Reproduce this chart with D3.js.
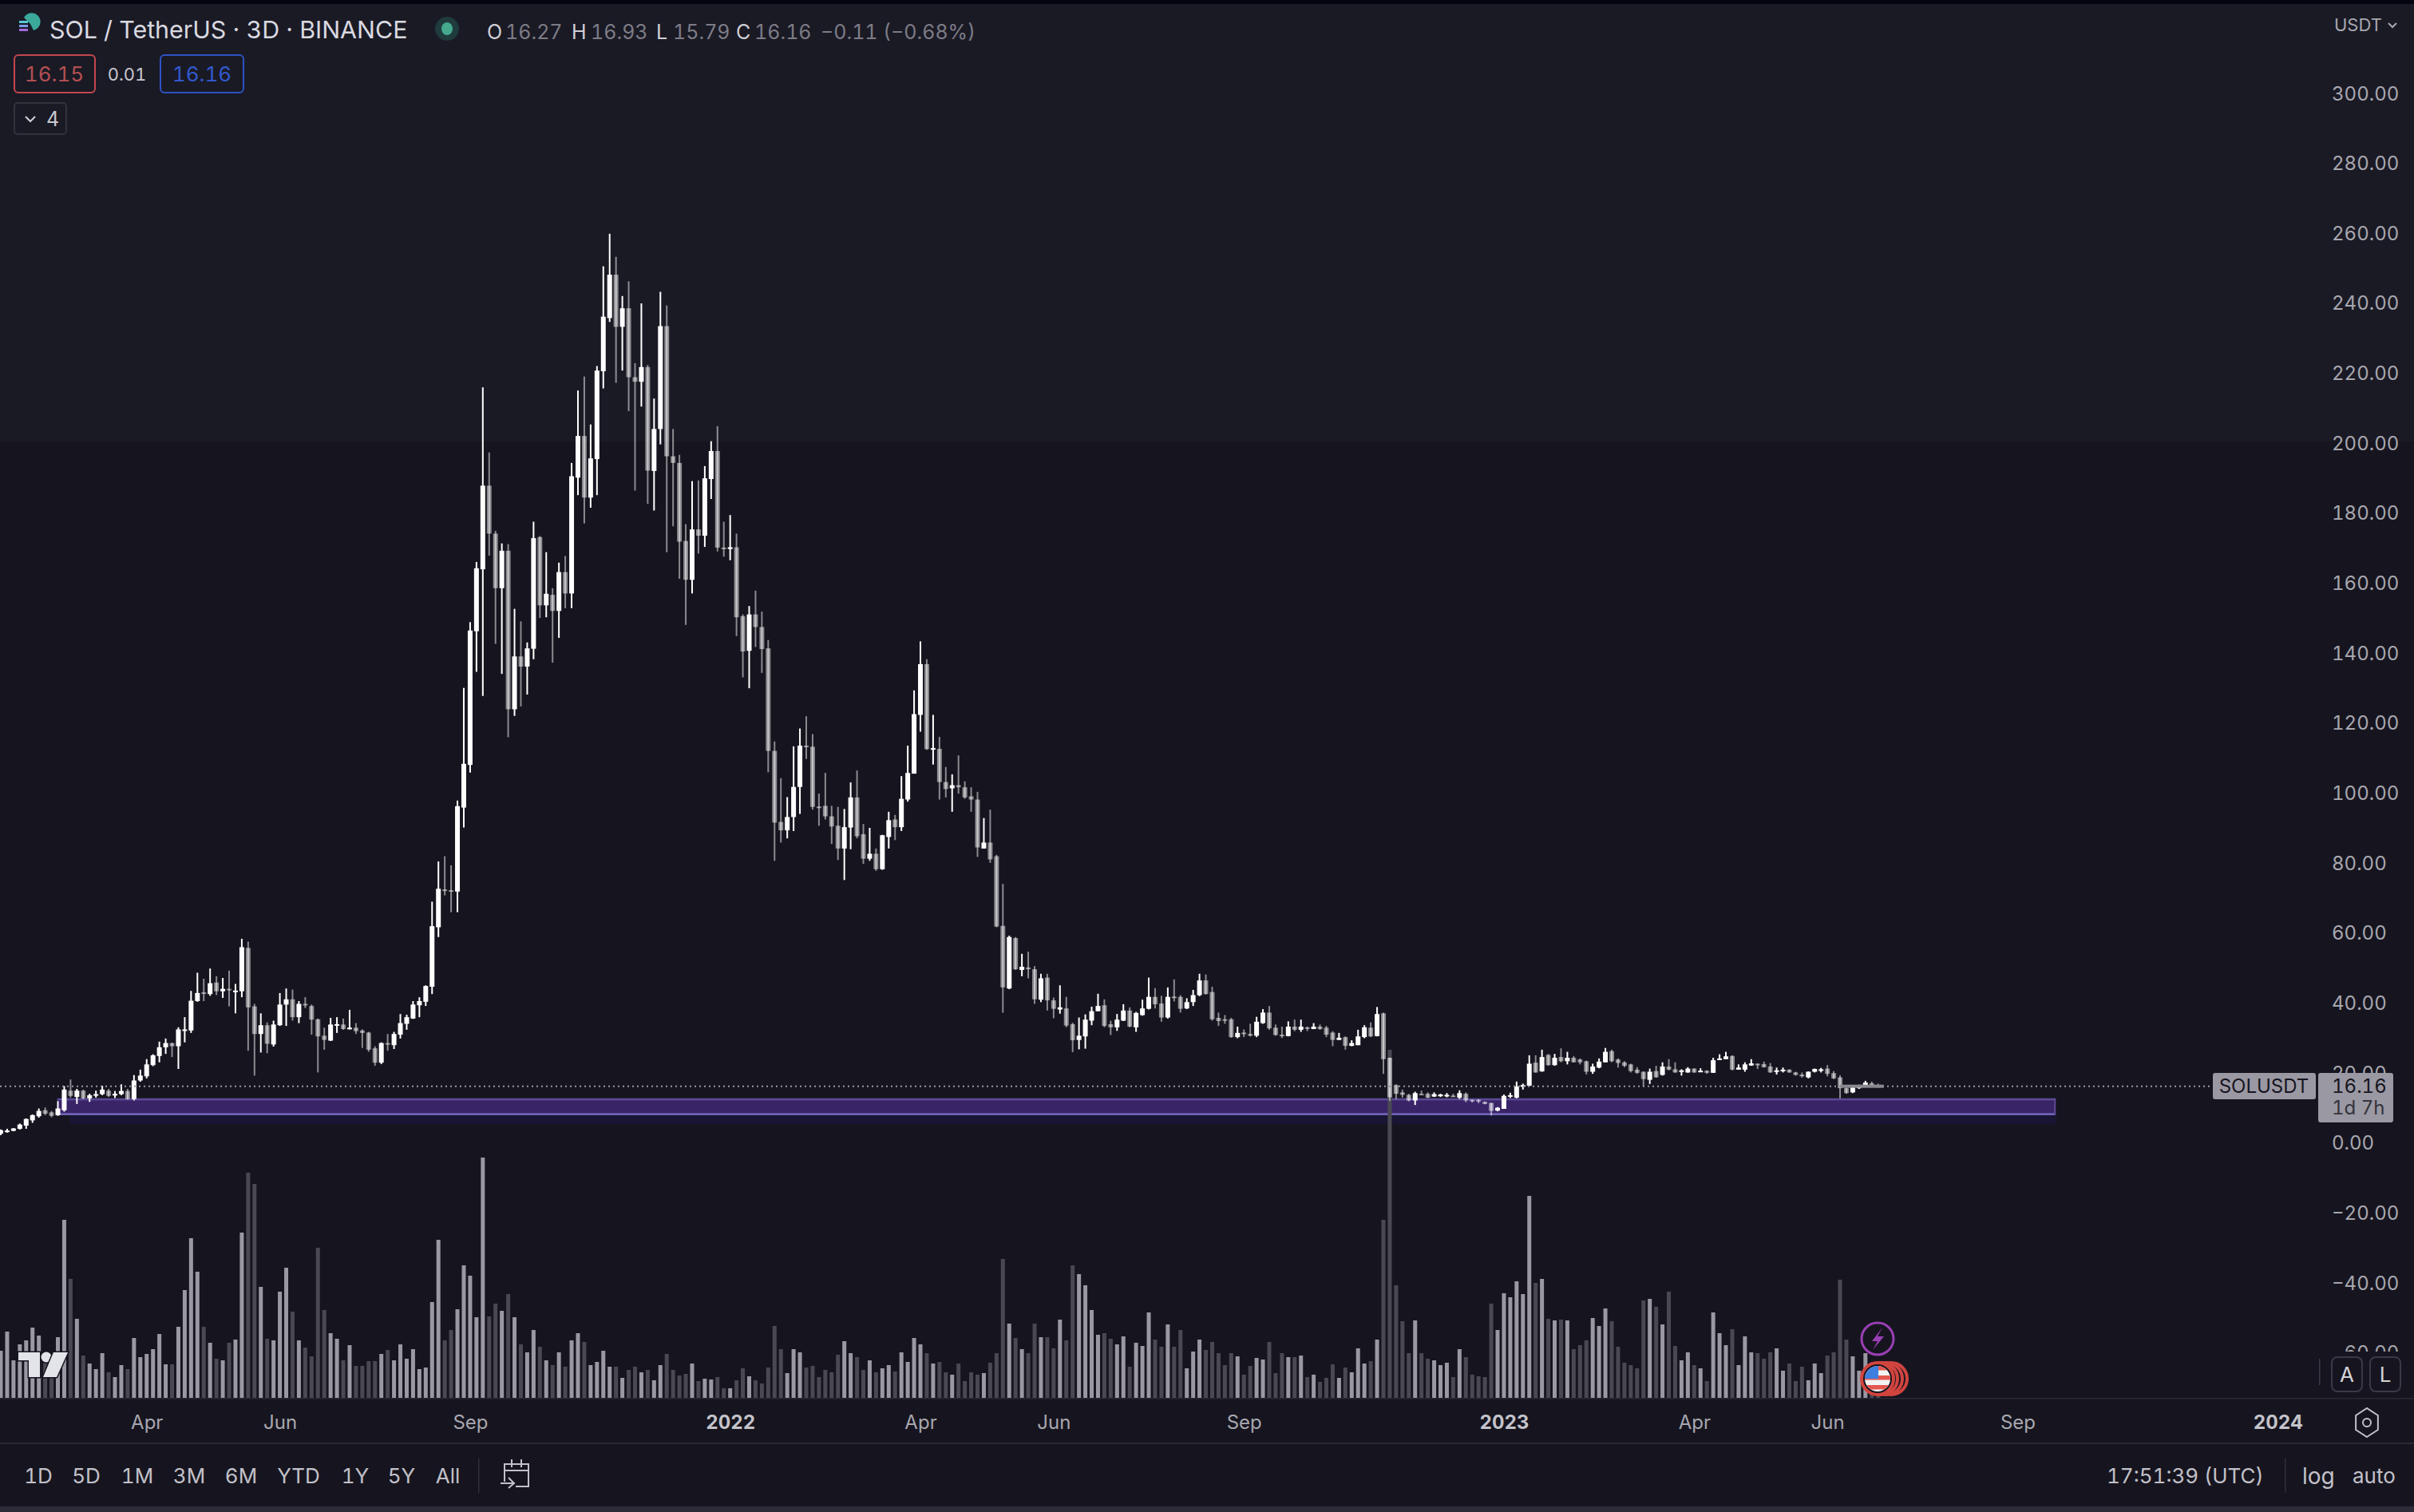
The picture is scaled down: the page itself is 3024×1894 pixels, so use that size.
<!DOCTYPE html>
<html><head><meta charset="utf-8">
<script src="https://cdn.jsdelivr.net/npm/d3@7/dist/d3.min.js"></script>
<style>html,body{margin:0;padding:0;background:#16151f}svg{display:block}text{font-family:Inter,"Noto Sans",sans-serif;font-variant-numeric:tabular-nums}</style>
</head><body><svg id="c" width="3024" height="1894"></svg>
<script>
const opens=[2.6,3.4,3.4,4.0,4.9,6.4,7.6,9.3,8.7,7.9,
9.3,14.9,13.1,14.9,12.7,13.5,13.9,14.9,13.5,13.9,
14.8,12.5,17.8,19,22.2,24.8,27.3,28.5,27.6,32.2,
32.1,40.5,43,42.5,45.8,43.3,44,43.2,43.3,55.7,
39,31.1,33.6,28.1,33.6,39.5,41,35.9,39.7,39.1,
35.3,30.6,29.2,33.7,33.8,32.6,32.9,32.1,31.5,27,
22.9,28.5,27.9,30.9,34,35.5,39.3,40.3,44.6,61.6,
72.4,72.2,71.8,95.8,108,146.2,163.9,187.8,174.1,158.5,
169.2,123.9,139,136.1,141.2,173.1,153.6,156.6,152,163.1,
157,190.1,202,184.4,195.4,220.5,235.7,248.1,233.2,238.5,
218.8,217.5,221.7,192,204,233.4,196.2,194.3,172,160.9,
175.3,173.5,189.7,197.7,170.1,169.7,170.2,150.5,140.6,151,
147.4,141.3,112,91.7,89.3,93.1,101.7,113.5,113.2,96.1,
96.3,93.3,90.6,84.1,90.1,98.7,88.2,81.2,82.6,78.2,
87.4,92.4,90.2,98.1,105.5,122.3,136.8,112.5,112.6,103.1,
101.3,102.2,101.6,99,98.1,84.1,85.8,81.9,62,44.1,
58.5,49.4,50.1,49.6,40.9,47.2,40.7,38.1,38.4,33.9,
29.4,30.4,34.9,37.6,39.3,33.9,33,34.9,37.8,33,
36.5,38.3,41.7,39.8,35.8,41.8,41.7,38.4,40.2,42.2,
46.4,43.1,35.7,35.3,35.3,30.2,31.5,31.1,30.6,34.2,
37.2,32.9,30.9,30.5,33.2,32.3,33,32.5,33.2,32.9,
31.5,29.4,30.2,27.7,27.9,30.2,32.9,30.5,37,24.3,
16.5,14.4,13.7,12.1,14,14,13.2,13.3,13.4,13.5,
12.9,14,12.3,12.3,11.7,11.4,9.2,9.7,13.3,12.9,
16,16.3,22.9,20.4,25.1,22.2,24.5,23.3,24.3,23.8,
23.3,20.3,21.5,23,26.2,23.8,23,22.4,20.9,20.3,
18,20.5,19.4,21.8,21,20.4,20.1,21.2,20.3,20.6,
20,23.8,23.9,24.8,20.9,20.9,22.1,22.6,22.5,21.8,
20.3,20.6,20.9,20.1,19.5,18.7,20.3,20.8,21.2,19.9,
18.7,15.6,14.4,15.6,16.3,17,16.27];
const closes=[3.6,3.5,4.1,5.2,6.8,7.9,9.1,8.3,7.7,9.8,
15.2,13.4,14.9,12.7,13.6,13.9,15.2,13.4,14,14.8,
12.5,17.8,19.2,22.4,25,27.3,28.5,27.6,32.4,32.4,
40.6,42.8,42.6,45.6,43.3,44,43.6,43.5,55.9,38.7,
31.1,33.6,28.3,33.8,39.5,41,35.9,39.7,39.3,35.2,
30.4,29.4,33.8,33.9,32.5,32.9,31.9,31.4,26.6,22.9,
28.5,28.2,31.1,34.2,35.9,39.5,40.5,44.8,61.9,72.6,
72,71.9,96.2,108.3,146.4,164.2,187.8,174.1,158.5,169.2,
123.9,139,136.1,141.3,172.8,153.6,156.9,152,163.1,157,
190.5,202,184.4,195.6,220.7,236.1,248.1,233.2,238.5,218.8,
217.5,221.7,192.1,204,233.4,196.2,194.3,171.8,160.9,175.3,
173.5,189.9,197.7,170.1,169.7,170.2,150.2,140.4,151,147.4,
141.1,112,91.5,89.3,93.1,101.7,113.5,113.2,96,95.9,
93.3,90.4,84.1,90.2,98.7,87.6,81.2,82.6,78.2,87.9,
92.2,90.2,98.3,105.7,122.5,136.8,112.5,112.8,103.1,101.1,
102.2,101.6,98.7,98.1,84.4,85.8,81,61.8,44.4,58.8,
49.6,50.3,49.6,41,47,40.7,38.3,38.7,33.5,29.3,
30.6,35.2,37.6,39.1,33.4,33,35.2,37.8,33.2,37.1,
38.4,41.7,39.6,35.8,41.7,41.5,38.3,40.2,42.2,46.4,
42.5,35.3,34.8,34.9,30.2,31.4,31.1,30.6,34.6,37.2,
32.7,30.8,30.8,33.2,32.3,33.2,32.7,33.2,32.5,30.9,
29.4,30,27.7,28.5,30.4,33,30.4,36.8,23.9,13,
14,13.7,12.1,14.2,13.8,12.9,13.9,13.8,13.7,13.2,
14.2,12.1,11.9,11.8,11.1,9.1,10,13.4,13.6,16.1,
16.5,22.6,20.1,24.5,22.2,24.3,23.3,24.3,23,23,
20.3,21.8,23.2,26,23.3,22.8,22,20.5,20,18.2,
20.3,18.7,21.8,20.9,20.1,20.7,21.2,20.1,20.6,20,
23.6,24.1,24.7,20.9,21.5,22.4,22.7,22.2,21.6,20.1,
20.7,20.9,20.1,19.4,19,20.3,21.1,21,19.7,18.4,
15.6,14.2,15.8,16.3,17.2,16.3,16.16];
const highs=[3.8,4,4.2,5.5,6.95,8.1,9.8,10.1,9.1,11.9,
16.2,18.1,15.4,15.2,14,14.9,16.3,15.4,14.8,16.7,
15.4,19.35,20.9,23.9,25.3,28.9,29.8,28.6,33,35.9,
43.4,48.6,46.9,49.8,47.6,47.1,49.2,45.4,58.3,57.5,
39.7,37,34.4,34.9,42.8,44.1,43.8,40.5,41.6,39.5,
35.5,32.9,35.7,35.9,35.5,38,34.2,32.4,31.7,27.6,
28.7,31.1,31.7,36.8,36.6,40.5,41.6,45,68.9,80.4,
81.9,79.3,97.8,130,148.8,166,215.9,197.3,174.9,171.3,
171.1,152.6,149,143,177.5,173.4,168.8,158.5,165.8,167.7,
194.3,215,219,205.3,222,250.5,259.8,253.2,242,246.2,
222.8,239.9,222.3,212.7,243.2,239.3,204,196.6,176.8,189.1,
189.3,193.4,200.5,204.8,177.5,179.4,174.1,151,153.4,157.8,
151.8,143.7,114.7,104.2,98.8,113.3,118.4,121.9,116.8,99.8,
105.7,96.3,96,95.4,103,106.4,91.1,90,84.1,88,
94.6,93.7,104.8,113.5,129.3,143.3,138.2,122.3,116,107.4,
105.3,110.7,103.3,101.6,100.3,92.8,95.2,82.3,74,59.2,
58.8,54,54.6,50.5,48.3,48.3,41.5,45,41.7,34.3,
35.8,36.7,38.9,42.6,41,34.9,36.8,39.6,38.7,37.4,
40.9,47.2,44.2,42,44.4,46.7,42.2,41.3,43.7,48.3,
48.1,44.6,37.2,36.5,35.7,33.2,32.4,34,36,38.2,
39.1,33.8,33.2,34.7,35.2,35.2,33.2,34.2,33.8,33.4,
31.9,31.4,30.4,29.3,32.3,33.6,34.4,38.8,37.2,24.3,
16.7,15.2,14,14.6,14.9,14.4,14.4,14,14.2,14,
15,14.4,12.3,12.4,11.8,11.4,10.2,13.8,14.3,17.5,
16.9,25,25,26.6,25.4,25.4,27,26,24.8,24.1,
23.5,22.6,24.1,27.1,26.6,24.1,23.3,22.6,21.6,20.4,
21.2,22,23,23.9,23,21,21.6,21.3,21.3,20.7,
24.3,25.3,26,25,22.4,23,23.9,22.7,23.2,22.8,
21.5,21.5,21,20.3,20.1,20.4,21.2,21.4,22.2,20.5,
19.3,16,16.1,16.6,17.7,17.5,16.93];
const lows=[2.2,2.9,3.3,3.8,4,5.7,7.2,7.9,7.3,7.7,
8.9,12.9,11.1,12.5,11.7,12.9,13.6,13.1,12.8,13.6,
12.35,12.1,17.45,18.4,21.9,23,25.4,24.5,21.1,28.7,
31.4,40.3,40.5,42,42.2,41.4,39,37,41.6,26.3,
19.2,25.8,25.6,27.5,33.4,33.4,34.9,34.2,38.5,30.9,
20.1,26.6,29.1,31.4,32.3,32.4,31.1,27.1,26,22,
22.5,26.3,26.8,29.8,32.3,35.4,35.9,39.1,42.5,58.8,
70.7,65.9,65.9,90.1,105.8,134.6,127.7,167.8,142.6,134,
115.9,122,124.7,128.1,138.2,150,150.2,137.2,144.3,152.8,
152.8,185.1,177,181.5,185.1,215.6,234.6,217.2,220.7,209.1,
186.4,210.4,182.6,180.7,199.6,168.8,176.2,161.2,148,157,
168.4,170.3,184,169,167.5,166.5,144.8,133,129.9,141.7,
134.3,105.9,80.6,85.8,87,89.1,94,109.7,95.2,90.6,
92.4,85.4,80.8,75.1,83.9,87,79.7,80.6,77.7,78,
84.1,86.5,89.1,97.5,105.5,117.5,112.3,108.1,98.1,98.7,
94.6,99.8,98.3,94.6,81.7,84.1,80,61.6,37.2,43.9,
49.4,47.6,47,39.7,40.2,37.8,35.6,36.9,33,25.9,
26.7,26.9,33.6,37.6,33,30.8,32,34.8,33,31.7,
36.3,38.1,38.4,34.6,35.5,40.4,37.2,38.2,39.1,41.9,
42.4,34.9,33.4,34,30,29.9,30.2,30.4,30.2,34,
32.3,30.6,29.9,30.4,31.9,31.7,31.9,32.5,32.3,30.2,
27.6,29.4,26.6,27.6,27.9,29.9,30.2,30.4,19.7,12,
12.5,12.9,11.8,10.8,13.8,12.7,13.1,13.1,13,13.1,
12.5,11.6,11.5,11.3,11,7.8,9,9.7,12.8,12.7,
15.2,16.2,20,20.3,22,22,23,22.4,23,22.4,
19.5,19.7,21.3,23,23,21.5,21.6,20.1,19.7,16.1,
16.8,18.6,19.2,20.7,20,19.2,20,20,20.3,19.7,
20,23.8,23.9,20.7,20.9,20.3,22,21.1,21.5,20,
19.5,20.1,20,19.2,18.6,18.4,20.1,20.1,19,18.2,
12.7,14,14.2,15.4,16.2,16.2,15.79];
const volumes=[59,83,47,67,72,88,78,47,44,76,
223,149,99,53,43,36,56,32,26,41,
36,75,51,55,61,80,42,42,89,135,
200,158,89,69,49,47,69,73,207,282,
268,139,74,72,133,163,108,72,63,52,
188,110,81,74,47,66,40,40,46,46,
55,60,47,67,49,61,36,38,120,198,
72,85,111,166,153,101,301,102,118,109,
130,101,67,57,85,64,47,41,57,39,
72,81,70,41,45,59,39,39,25,35,
39,32,35,22,41,55,35,28,30,43,
21,24,23,26,12,12,22,37,27,22,
18,38,90,61,31,61,57,38,40,26,
35,32,54,71,56,51,35,47,32,37,
41,33,57,45,75,67,56,43,45,32,
29,43,21,32,29,31,44,56,174,93,
75,61,56,93,76,76,62,98,72,166,
155,141,110,79,81,74,67,77,39,69,
65,107,73,64,92,64,85,37,58,73,
60,70,56,41,56,52,29,40,50,48,
70,31,56,51,51,53,26,29,20,25,
42,25,38,32,62,43,46,73,223,436,
141,96,56,97,56,49,47,41,44,26,
61,51,29,27,26,118,85,131,126,146,
130,253,144,149,99,97,98,97,61,66,
72,100,90,112,96,64,44,41,37,122,
124,114,92,133,65,47,57,41,37,21,
107,81,66,86,41,77,57,56,49,57,
62,34,43,21,39,22,43,31,53,57,
148,73,52,34,56,27,11];
const priceTicks=[300,280,260,240,220,200,180,160,140,120,100,80,60,40,20,0,-20,-40,-60];
const timeLabels=["Apr","Jun","Sep","2022","Apr","Jun","Sep","2023","Apr","Jun","Sep","2024"];
const timeBars=[23,44,74,115,145,166,196,237,267,288,318,359];
const rangeLabels=["1D","5D","1M","3M","6M","YTD","1Y","5Y","All"];
const zonePrices=[7.9,12.7];
const zoneBars=[8.9,324];
const lastPrice=16.16;

const W=3024,H=1894;
const svg=d3.select("#c");
const x=d3.scaleLinear().domain([0,296]).range([1,2352.7]);
const y=d3.scaleLinear().domain([0,300]).range([1431.5,116.6]);
const vy=d3.scaleLinear().domain([0,436]).range([1751,1315]);
const BG="#16151f",BGTOP="#1a1a25",UP="#ffffff",DOWN="rgba(255,255,255,0.5)",VUP="#9a98a2",VDN="#4a4953",AX="#a8a7af";
const defs=svg.append("defs");
defs.append("clipPath").attr("id","axisClip").append("rect").attr("x",2900).attr("y",0).attr("width",124).attr("height",1693);
defs.append("clipPath").attr("id","plotClip").append("rect").attr("x",0).attr("y",0).attr("width",W).attr("height",1751);
defs.append("clipPath").attr("id","flagClip").append("circle").attr("cx",2352).attr("cy",1727).attr("r",16);

svg.append("rect").attr("width",W).attr("height",H).attr("fill",BG);
svg.append("rect").attr("width",W).attr("height",553).attr("fill",BGTOP);
svg.append("rect").attr("width",W).attr("height",5).attr("fill","#03040f");

// zone
const zx0=x(zoneBars[0]),zx1=x(zoneBars[1]),zt=y(zonePrices[1]),zb=y(zonePrices[0]);
svg.append("rect").attr("x",zx0+16).attr("y",zb).attr("width",zx1-zx0-16).attr("height",11).attr("fill","#191534");
svg.append("rect").attr("x",zx0).attr("y",zt).attr("width",zx1-zx0).attr("height",zb-zt).attr("fill","#3a2468");
svg.append("rect").attr("x",zx0).attr("y",zt).attr("width",zx1-zx0).attr("height",2.5).attr("fill","#5d4a96");
svg.append("rect").attr("x",zx0).attr("y",zb-2.5).attr("width",zx1-zx0).attr("height",2.5).attr("fill","#7568bb");
svg.append("rect").attr("x",zx1-2).attr("y",zt).attr("width",2).attr("height",zb-zt).attr("fill","#5d4a96");

// volume
svg.append("g").attr("clip-path","url(#plotClip)").selectAll("rect").data(volumes).join("rect")
 .attr("x",(d,i)=>x(i)-2.5).attr("width",5).attr("y",d=>vy(d)).attr("height",d=>vy(0)-vy(d))
 .attr("fill",(d,i)=>closes[i]>=opens[i]?VUP:VDN);

// candles
const cg=svg.append("g");
const idx=d3.range(opens.length);
cg.selectAll("rect.w").data(idx).join("rect").attr("class","w")
 .attr("x",i=>x(i)-1).attr("width",2).attr("y",i=>y(highs[i])).attr("height",i=>y(lows[i])-y(highs[i]))
 .attr("fill",i=>closes[i]>=opens[i]?UP:DOWN);
cg.selectAll("rect.b").data(idx).join("rect").attr("class","b")
 .attr("x",i=>x(i)-3).attr("width",6).attr("y",i=>y(Math.max(opens[i],closes[i])))
 .attr("height",i=>Math.max(2,Math.abs(y(opens[i])-y(closes[i]))))
 .attr("fill",i=>closes[i]>=opens[i]?UP:DOWN);

// last price line
const ly=y(lastPrice);
svg.append("line").attr("x1",0).attr("x2",2770).attr("y1",ly).attr("y2",ly).attr("stroke","#9a98a2").attr("stroke-width",2).attr("stroke-dasharray","2 4");
svg.append("rect").attr("x",x(290)).attr("width",x(296.9)-x(290)).attr("y",ly-2).attr("height",4).attr("fill","#8a8990");

// price axis
const axisY=d3.axisRight(y).tickValues(priceTicks).tickFormat(d3.format(".2f")).tickSize(0).tickPadding(0);
const ay=svg.append("g").attr("clip-path","url(#axisClip)").append("g").attr("transform","translate(2921,0)").call(axisY);
ay.select(".domain").remove();
ay.selectAll("text").attr("font-size",24).attr("fill",AX).attr("font-family","Inter").attr("dy","0.35em");

// price labels
svg.append("rect").attr("x",2772).attr("y",1344).attr("width",129).attr("height",33).attr("rx",3).attr("fill","#9a98a2");
svg.append("rect").attr("x",2904).attr("y",1344).attr("width",94).attr("height",62).attr("rx",3).attr("fill","#9a98a2");
const lab=(t,X,Y,o={})=>svg.append("text").text(t).attr("x",X).attr("y",Y).attr("dy","0.35em")
 .attr("text-anchor",o.a||"start").attr("font-size",o.s||24).attr("fill",o.c||AX).attr("font-weight",o.w||400);
lab("SOLUSDT",2836,1361,{a:"middle",c:"#16151f",s:24});
lab("16.16",2921,1361,{c:"#16151f",s:24});
lab("1d 7h",2921,1388,{c:"#34333d",s:24});

// time axis
svg.append("rect").attr("x",0).attr("y",1751).attr("width",W).attr("height",1.5).attr("fill","#2a2933");
const axisX=d3.axisBottom(x).tickValues(timeBars).tickFormat((d,i)=>timeLabels[i]).tickSize(0).tickPadding(0);
const ax=svg.append("g").attr("transform","translate(0,1782)").call(axisX);
ax.select(".domain").remove();
ax.selectAll("text").attr("font-size",24).attr("font-family","Inter").attr("dy","0.35em")
 .attr("fill",(d,i)=>/^20/.test(timeLabels[i])?"#c4c3ca":AX).attr("font-weight",(d,i)=>/^20/.test(timeLabels[i])?700:400);

// bottom toolbar
svg.append("rect").attr("y",1807).attr("width",W).attr("height",2).attr("fill","#2a2933");
svg.append("rect").attr("y",1887).attr("width",W).attr("height",7).attr("fill","#2c2b37");
const rxs=[48,108,172,237,302,374,445,503,561];
rangeLabels.forEach((t,i)=>lab(t,rxs[i],1849,{a:"middle",s:26,c:"#c2c1c9"}));
svg.append("rect").attr("x",599).attr("y",1827).attr("width",1.5).attr("height",43).attr("fill","#2f2e39");
svg.append("path").attr("d","M632 1856V1834H662V1862H646M632 1842H662M641 1828V1838M653 1828V1838M627 1858H643M637 1851L644 1858L637 1864")
 .attr("fill","none").attr("stroke","#c2c1c9").attr("stroke-width",2);
lab("17:51:39 (UTC)",2639,1849,{s:26,c:"#c2c1c9"});
svg.append("rect").attr("x",2862).attr("y",1827).attr("width",1.5).attr("height",43).attr("fill","#2f2e39");
lab("log",2884,1849,{s:28,c:"#c2c1c9"});
lab("auto",2947,1849,{s:26,c:"#c2c1c9"});

// settings hex
const hex=d3.range(6).map(k=>[2965+16*Math.sin(k*Math.PI/3),1782+18*Math.cos(k*Math.PI/3)]);
svg.append("polygon").attr("points",hex.map(p=>p.join(",")).join(" ")).attr("fill","none").attr("stroke","#c2c1c9").attr("stroke-width",2);
svg.append("circle").attr("cx",2965).attr("cy",1782).attr("r",5).attr("fill","none").attr("stroke","#c2c1c9").attr("stroke-width",2);

// A L buttons
svg.append("rect").attr("x",2905).attr("y",1702).attr("width",1.5).attr("height",33).attr("fill","#3a3945");
[[2921,"A"],[2969,"L"]].forEach(([bx,t])=>{
 svg.append("rect").attr("x",bx).attr("y",1700).attr("width",38).attr("height",43).attr("rx",7).attr("fill",BG).attr("stroke","#3a3945").attr("stroke-width",2);
 lab(t,bx+19,1722,{a:"middle",s:26,c:"#d5d4da"});
});

// TV logo
const logo=svg.append("g").attr("fill","#e3e3ea").attr("stroke",BG).attr("stroke-width",3).attr("paint-order","stroke");
logo.append("path").attr("d","M23 1694H50V1725H36V1704H23Z");
logo.append("circle").attr("cx",58).attr("cy",1700).attr("r",6.5);
logo.append("path").attr("d","M67 1694H85L71 1725H54Z");

// lightning event
svg.append("circle").attr("cx",2352).attr("cy",1677).attr("r",20).attr("fill",BG).attr("stroke","#9a3fb5").attr("stroke-width",3);
svg.append("path").attr("d","M2358 1663L2345 1680H2352L2346 1691L2360 1674H2352Z").attr("fill","#9a3fb5");
// flag event
[2369,2363,2357].forEach(cx=>svg.append("circle").attr("cx",cx).attr("cy",1727).attr("r",20).attr("fill",BG).attr("stroke","#d2443f").attr("stroke-width",4));
svg.append("circle").attr("cx",2352).attr("cy",1727).attr("r",20).attr("fill",BG).attr("stroke","#d2443f").attr("stroke-width",4);
const fl=svg.append("g").attr("clip-path","url(#flagClip)");
fl.append("rect").attr("x",2336).attr("y",1711).attr("width",32).attr("height",32).attr("fill","#f2f2f2");
[1711,1723,1735].forEach(sy=>fl.append("rect").attr("x",2336).attr("y",sy).attr("width",32).attr("height",5.5).attr("fill","#e4574f"));
fl.append("rect").attr("x",2336).attr("y",1711).attr("width",17).attr("height",16).attr("fill","#3f7fe0");

// header
svg.append("path").attr("d","M30 22a11 11 0 1 1 12 16l-4-8z").attr("fill","#3aa99a");
[[27,26,"#56c8d8"],[27,31,"#7b9ce6"],[27,36,"#a56be0"]].forEach(([sx,sy,c])=>svg.append("rect").attr("x",sx-3).attr("y",sy).attr("width",11).attr("height",3).attr("fill",c));
lab("SOL / TetherUS · 3D · BINANCE",62,37,{s:30.4,c:"#d9d9e0"});
svg.append("ellipse").attr("cx",560).attr("cy",36).attr("rx",15).attr("ry",15).attr("fill","#1f3b3c");
svg.append("ellipse").attr("cx",560).attr("cy",36).attr("rx",7).attr("ry",8).attr("fill","#46a88d");
[["O",610,"16.27",633],["H",716,"16.93",740],["L",822,"15.79",843],["C",922,"16.16",945]].forEach(([k,kx,v,vx])=>{
 lab(k,kx,40,{s:25,c:"#d0d0d6"});lab(v,vx,40,{s:25,c:"#7d7c86"});
});
lab("−0.11 (−0.68%)",1028,40,{s:25,c:"#7d7c86"});
svg.append("rect").attr("x",18).attr("y",69).attr("width",101).attr("height",47).attr("rx",5).attr("fill",BGTOP).attr("stroke","#c4474d").attr("stroke-width",2);
lab("16.15",68,93,{a:"middle",s:26,c:"#b24f53"});
lab("0.01",159,93,{a:"middle",s:22,c:"#c8c8ce"});
svg.append("rect").attr("x",201).attr("y",69).attr("width",104).attr("height",47).attr("rx",5).attr("fill",BGTOP).attr("stroke","#2d52c5").attr("stroke-width",2);
lab("16.16",253,93,{a:"middle",s:26,c:"#3158cc"});
svg.append("rect").attr("x",18).attr("y",129).attr("width",65).attr("height",39).attr("rx",4).attr("fill",BGTOP).attr("stroke","#33323c").attr("stroke-width",2);
svg.append("path").attr("d","M32 146L38 152L44 146").attr("fill","none").attr("stroke","#d0d0d6").attr("stroke-width",2);
lab("4",66,149,{a:"middle",s:25,c:"#c8c8ce"});
lab("USDT",2924,31,{s:22,c:AX});
svg.append("path").attr("d","M2992 29L2997 34L3002 29").attr("fill","none").attr("stroke",AX).attr("stroke-width",2);
</script></body></html>
